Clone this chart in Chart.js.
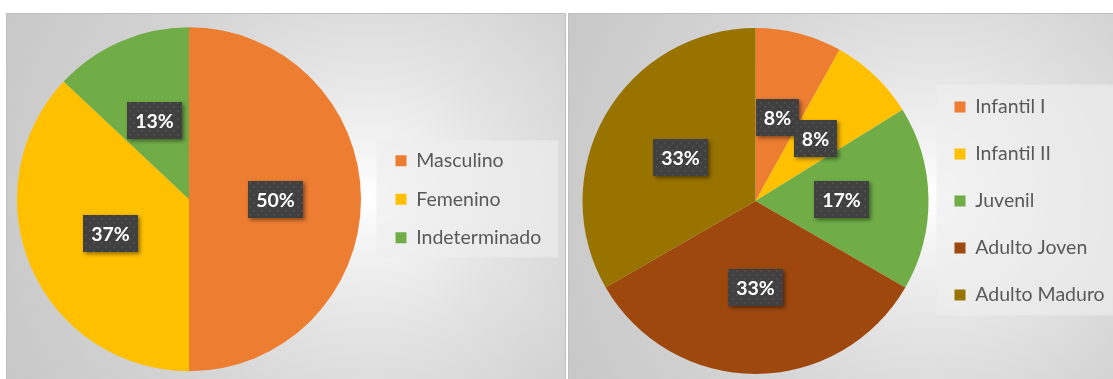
<!DOCTYPE html>
<html>
<head>
<meta charset="utf-8">
<script src="https://cdn.jsdelivr.net/npm/chart.js@4.4.1/dist/chart.umd.min.js"></script>
<style>
  html, body { margin: 0; padding: 0; background: #fff; }
  body { width: 1113px; height: 379px; position: relative; overflow: hidden; }
  .panel {
    position: absolute; top: 13px; height: 366px; box-sizing: border-box;
    border: 1px solid #bfbfbf; border-bottom: none;
    background: radial-gradient(circle at 363px 50%, #ffffff 0px, #f4f4f4 45px, #e3e3e3 140px, #d4d4d4 250px, #c8c8c8 400px);
  }
  #panelSexo { left: 6px; width: 560px; }
  #panelEdad { left: 568px; width: 560px; }
  canvas { position: absolute; top: 13px; }
  #sexoChart { left: 0; }
  #edadChart { left: 567px; }
</style>
</head>
<body>
<div class="panel" id="panelSexo"></div>
<div class="panel" id="panelEdad"></div>
<canvas id="sexoChart" width="566" height="366"></canvas>
<canvas id="edadChart" width="560" height="366"></canvas>

<script>
// Sexo
const sexoLabels = ['Masculino', 'Femenino', 'Indeterminado'];
const sexoValues = [50, 37, 13];
const sexoColors = ['#ED7D31', '#FFC000', '#70AD47'];

// Grupo de edad
const edadLabels = ['Infantil I', 'Infantil II', 'Juvenil', 'Adulto Joven', 'Adulto Maduro'];
const edadValues = [8, 8, 17, 33, 33];
const edadColors = ['#ED7D31', '#FFC000', '#70AD47', '#9E480E', '#997300'];

const LEGEND_FONT = { family: 'Lato', size: 19.5 };
const LABEL_FONT = 'bold 19.5px Lato';
const BOX = 11;

// Widest legend entry, used to place the legend where we want it
function widestText(labels) {
  const ctx = document.createElement('canvas').getContext('2d');
  ctx.font = `${LEGEND_FONT.size}px ${LEGEND_FONT.family}`;
  return Math.max(...labels.map(t => ctx.measureText(t).width));
}

// Small dotted tile for the label boxes
function dotPattern(ctx) {
  const tile = document.createElement('canvas');
  tile.width = 8; tile.height = 8;
  const t = tile.getContext('2d');
  t.fillStyle = 'rgba(255,255,255,0.07)';
  t.fillRect(1, 1, 2, 2);
  t.fillRect(5, 5, 2, 2);
  return ctx.createPattern(tile, 'repeat');
}

// Light panel behind the legend
const legendPanel = {
  id: 'legendPanel',
  beforeDraw(chart, args, opts) {
    const boxes = chart.legend.legendHitBoxes;
    if (!boxes || !boxes.length) return;
    const first = boxes[0];
    const last = boxes[boxes.length - 1];
    const right = Math.max(...boxes.map(b => b.left + b.width));
    const offset = (LEGEND_FONT.size - BOX) / 2;
    const x = first.left - opts.left;
    const y = first.top + offset - opts.top;
    const ctx = chart.ctx;
    ctx.save();
    ctx.fillStyle = 'rgba(238,238,238,0.64)';
    ctx.fillRect(x, y, right + opts.right - x, last.top + offset + BOX + opts.bottom - y);
    ctx.restore();
  }
};

// Percentage tags in the middle of each slice
const pctLabels = {
  id: 'pctLabels',
  afterDatasetsDraw(chart) {
    const ctx = chart.ctx;
    const meta = chart.getDatasetMeta(0);
    const values = chart.data.datasets[0].data;
    const pattern = dotPattern(ctx);
    ctx.save();
    ctx.font = LABEL_FONT;
    ctx.textAlign = 'center';
    ctx.textBaseline = 'middle';
    meta.data.forEach((arc, i) => {
      const { x, y } = arc.getCenterPoint();
      const text = values[i] + '%';
      const w = Math.round(ctx.measureText(text).width + 16);
      const h = 37;
      const bx = Math.round(x - w / 2);
      const by = Math.round(y - h / 2);

      ctx.save();
      ctx.shadowColor = 'rgba(0,0,0,0.45)';
      ctx.shadowBlur = 4;
      ctx.shadowOffsetX = 2;
      ctx.shadowOffsetY = 2;
      ctx.fillStyle = '#404040';
      ctx.fillRect(bx, by, w, h);
      ctx.restore();

      ctx.fillStyle = pattern;
      ctx.fillRect(bx, by, w, h);
      ctx.fillStyle = '#ffffff';
      ctx.fillText(text, bx + w / 2, by + h / 2 + 1);
    });
    ctx.restore();
  }
};

function makePie(canvasId, labels, values, colors, opts) {
  const legendWidth = opts.rowPad + BOX + LEGEND_FONT.size / 2 + widestText(labels) + 10;
  const canvas = document.getElementById(canvasId);
  const padRight = canvas.width - opts.legendLeft - legendWidth;

  return new Chart(canvas, {
    type: 'pie',
    data: {
      labels: labels,
      datasets: [{
        data: values,
        backgroundColor: colors,
        borderWidth: 0,
        radius: opts.radius
      }]
    },
    options: {
      responsive: false,
      animation: false,
      events: [],
      layout: {
        padding: { left: opts.padLeft, right: padRight, top: opts.padTop, bottom: opts.padBottom }
      },
      plugins: {
        tooltip: { enabled: false },
        legend: {
          position: 'right',
          labels: {
            boxWidth: BOX,
            boxHeight: BOX,
            padding: opts.rowPad,
            color: '#595959',
            font: LEGEND_FONT
          }
        },
        legendPanel: opts.panel
      }
    },
    plugins: [legendPanel, pctLabels]
  });
}

makePie('sexoChart', sexoLabels, sexoValues, sexoColors, {
  radius: 172,
  padLeft: 1.5, padTop: 12, padBottom: 5.4,
  legendLeft: 376.5,
  rowPad: 19,
  panel: { left: 19, top: 15, right: 17, bottom: 14 }
});

makePie('edadChart', edadLabels, edadValues, edadColors, {
  radius: 173,
  padLeft: 17, padTop: 12, padBottom: 2,
  legendLeft: 360,
  rowPad: 27.5,
  panel: { left: 18, top: 17, right: 17, bottom: 15 }
});
</script>
</body>
</html>
